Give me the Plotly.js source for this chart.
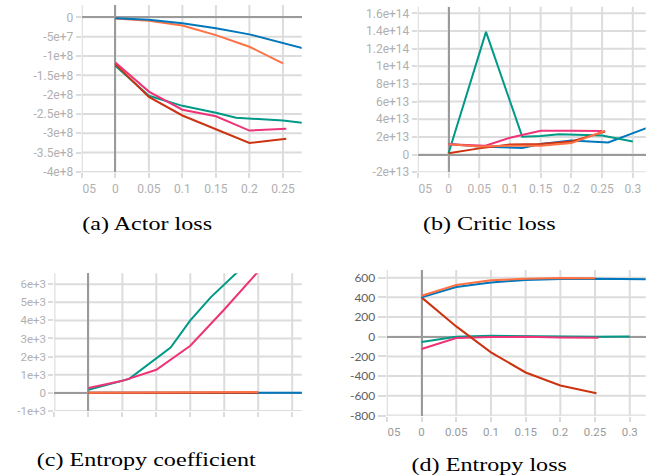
<!DOCTYPE html>
<html>
<head>
<meta charset="utf-8">
<script src="https://cdn.plot.ly/plotly-3.0.1.min.js"></script>
<style>
  html, body { margin: 0; padding: 0; background: #fff; }
  #chart { width: 660px; height: 476px; }
</style>
</head>
<body>
<div id="chart"></div>
<script>
// ---- (a) Actor loss ----
const actorBlueX   = [0, 0.05, 0.1, 0.15, 0.2, 0.25, 0.3];
const actorBlueY   = [-0.2e7, -0.6e7, -1.5e7, -2.8e7, -4.4e7, -6.5e7, -8.9e7];
const actorOrangeX = [0, 0.05, 0.1, 0.15, 0.2, 0.25];
const actorOrangeY = [-0.3e7, -0.9e7, -2.1e7, -4.6e7, -7.6e7, -1.19e8];
const actorTealX   = [0, 0.05, 0.1, 0.15, 0.18, 0.2, 0.25, 0.3];
const actorTealY   = [-1.25e8, -2.03e8, -2.29e8, -2.47e8, -2.60e8, -2.62e8, -2.67e8, -2.77e8];
const actorPinkX   = [0, 0.05, 0.1, 0.15, 0.2, 0.255];
const actorPinkY   = [-1.17e8, -1.92e8, -2.39e8, -2.56e8, -2.93e8, -2.88e8];
const actorRedX    = [0, 0.05, 0.1, 0.15, 0.2, 0.255];
const actorRedY    = [-1.21e8, -2.06e8, -2.54e8, -2.89e8, -3.25e8, -3.14e8];
const actorYTicks  = [0, -5e7, -1e8, -1.5e8, -2e8, -2.5e8, -3e8, -3.5e8, -4e8];
const actorYLabels = ['0', '-5e+7', '-1e+8', '-1.5e+8', '-2e+8', '-2.5e+8', '-3e+8', '-3.5e+8', '-4e+8'];

// ---- (b) Critic loss ----
const criticTealX   = [0, 0.061, 0.12, 0.15, 0.18, 0.25, 0.3];
const criticTealY   = [0.15e13, 13.9e13, 2.03e13, 2.1e13, 2.3e13, 2.15e13, 1.47e13];
const criticBlueX   = [0, 0.05, 0.12, 0.15, 0.2, 0.26, 0.33];
const criticBlueY   = [1.2e13, 0.9e13, 0.75e13, 1.2e13, 1.6e13, 1.36e13, 3.2e13];
const criticPinkX   = [0, 0.06, 0.1, 0.15, 0.2, 0.25];
const criticPinkY   = [1.17e13, 1.0e13, 1.9e13, 2.7e13, 2.7e13, 2.67e13];
const criticOrangeX = [0, 0.05, 0.1, 0.15, 0.2, 0.255];
const criticOrangeY = [1.17e13, 0.9e13, 1.0e13, 1.0e13, 1.3e13, 2.7e13];
const criticRedX    = [0, 0.05, 0.1, 0.15, 0.2, 0.255];
const criticRedY    = [0.15e13, 0.7e13, 1.13e13, 1.2e13, 1.47e13, 2.6e13];
const criticYTicks  = [-2e13, 0, 2e13, 4e13, 6e13, 8e13, 1e14, 1.2e14, 1.4e14, 1.6e14];
const criticYLabels = ['-2e+13', '0', '2e+13', '4e+13', '6e+13', '8e+13', '1e+14', '1.2e+14', '1.4e+14', '1.6e+14'];

// ---- (c) Entropy coefficient ----
const coefTealX   = [0, 0.06, 0.121, 0.15, 0.18, 0.24];
const coefTealY   = [170, 770, 2500, 4000, 5270, 7400];
const coefPinkX   = [0, 0.05, 0.1, 0.15, 0.2, 0.25];
const coefPinkY   = [260, 660, 1270, 2600, 4600, 6700];
const coefBlueX   = [0, 0.05, 0.1, 0.15, 0.2, 0.25, 0.3, 0.35];
const coefBlueY   = [0, 0, 0, 0, 0, 0, 0, 0];
const coefRedX    = [0, 0.05, 0.1, 0.15, 0.2, 0.25];
const coefRedY    = [0, 0, 0, 0, 0, 0];
const coefOrangeX = [0, 0.05, 0.1, 0.15, 0.2, 0.25];
const coefOrangeY = [0, 0, 5, 10, 20, 40];
const coefYTicks  = [-1000, 0, 1000, 2000, 3000, 4000, 5000, 6000];
const coefYLabels = ['-1e+3', '0', '1e+3', '2e+3', '3e+3', '4e+3', '5e+3', '6e+3'];

// ---- (d) Entropy loss ----
const entBlueX   = [0, 0.05, 0.1, 0.15, 0.2, 0.25, 0.33];
const entBlueY   = [400, 505, 552, 576, 586, 590, 583];
const entOrangeX = [0, 0.05, 0.1, 0.15, 0.2, 0.25];
const entOrangeY = [417, 525, 573, 590, 597, 593];
const entRedX    = [0, 0.05, 0.1, 0.15, 0.2, 0.252];
const entRedY    = [400, 105, -159, -363, -495, -573];
const entTealX   = [0, 0.05, 0.1, 0.15, 0.2, 0.25, 0.3];
const entTealY   = [-54, 0, 10, 7, 0, 0, 3];
const entPinkX   = [0, 0.05, 0.1, 0.15, 0.2, 0.255];
const entPinkY   = [-125, -14, -3, 0, -7, -10];
const entYTicks  = [-800, -600, -400, -200, 0, 200, 400, 600];
const entYLabels = ['-800', '-600', '-400', '-200', '0', '200', '400', '600'];

// shared step axis
const NB = '\u00a0';
const stepTicks  = [-0.05, 0, 0.05, 0.1, 0.15, 0.2, 0.25, 0.3];
const stepLabels = [NB.repeat(5) + '05', '0', '0.05', '0.1', '0.15', '0.2', '0.25', '0.3'];

const captions = ['(a) Actor loss', '(b) Critic loss', '(c) Entropy coefficient', '(d) Entropy loss'];

// run colours
const C = { blue: '#0077bb', orange: '#ff7043', red: '#cc3311', pink: '#ee3377', teal: '#009988' };

const W = 660, H = 476;
const xd = (l, r) => [l / W, r / W];
const yd = (t, b) => [1 - b / H, 1 - t / H];

function line(x, y, color, xa, ya) {
  return { x, y, type: 'scatter', mode: 'lines', xaxis: xa, yaxis: ya,
           line: { color, width: 2 }, hoverinfo: 'skip', showlegend: false };
}

const gridC = '#dcdcdc';
function xAxis(domain, range, anchor, labels, font) {
  return {
    domain, range, anchor, tickmode: 'array', tickvals: stepTicks.slice(), ticktext: stepLabels.slice(),
    showticklabels: labels, showgrid: false,
    zeroline: true, zerolinecolor: '#9a9a9a', zerolinewidth: 2, showline: false,
    ticks: 'outside', ticklen: 5, tickwidth: 2, tickcolor: gridC,
    tickfont: font || { family: 'Roboto', size: 12, color: '#b0b0b0' }
  };
}
function yAxis(domain, range, anchor, vals, text, font, ticklen) {
  return {
    domain, range, anchor, tickmode: 'array', tickvals: vals, ticktext: text, showgrid: false,
    zeroline: true, zerolinecolor: '#9a9a9a', zerolinewidth: 2, showline: false,
    ticks: 'outside', ticklen: ticklen || 5, tickwidth: 2, tickcolor: gridC,
    tickfont: font || { family: 'Roboto', size: 12, color: '#b0b0b0' }
  };
}

// light grid drawn as shapes at the tick values of each subplot
function gridShapes(xa, ya, xVals, yVals, xRange, yRange) {
  const s = [];
  xVals.filter(v => v >= xRange[0] && v <= xRange[1]).forEach(v => s.push({
    type: 'line', layer: 'below', xref: xa, yref: ya + ' domain', x0: v, x1: v, y0: 0, y1: 1,
    line: { color: gridC, width: 2 }
  }));
  yVals.filter(v => v >= yRange[0] && v <= yRange[1]).forEach(v => s.push({
    type: 'line', layer: 'below', xref: xa + ' domain', yref: ya, x0: 0, x1: 1, y0: v, y1: v,
    line: { color: gridC, width: 2 }
  }));
  return s;
}

const data = [
  line(actorOrangeX, actorOrangeY, C.orange, 'x', 'y'),
  line(actorBlueX, actorBlueY, C.blue, 'x', 'y'),
  line(actorTealX, actorTealY, C.teal, 'x', 'y'),
  line(actorRedX, actorRedY, C.red, 'x', 'y'),
  line(actorPinkX, actorPinkY, C.pink, 'x', 'y'),

  line(criticBlueX, criticBlueY, C.blue, 'x2', 'y2'),
  line(criticTealX, criticTealY, C.teal, 'x2', 'y2'),
  line(criticPinkX, criticPinkY, C.pink, 'x2', 'y2'),
  line(criticRedX, criticRedY, C.red, 'x2', 'y2'),
  line(criticOrangeX, criticOrangeY, C.orange, 'x2', 'y2'),

  line(coefBlueX, coefBlueY, C.blue, 'x3', 'y3'),
  line(coefRedX, coefRedY, C.red, 'x3', 'y3'),
  line(coefOrangeX, coefOrangeY, C.orange, 'x3', 'y3'),
  line(coefTealX, coefTealY, C.teal, 'x3', 'y3'),
  line(coefPinkX, coefPinkY, C.pink, 'x3', 'y3'),

  line(entTealX, entTealY, C.teal, 'x4', 'y4'),
  line(entPinkX, entPinkY, C.pink, 'x4', 'y4'),
  line(entRedX, entRedY, C.red, 'x4', 'y4'),
  line(entBlueX, entBlueY, C.blue, 'x4', 'y4'),
  line(entOrangeX, entOrangeY, C.orange, 'x4', 'y4')
];

const capFont = { family: 'Liberation Serif', size: 19, color: '#000' };
function caption(text, cx, cy) {
  return { text, xref: 'paper', yref: 'paper', x: cx / W, y: 1 - cy / H,
           xanchor: 'center', yanchor: 'middle', showarrow: false, font: capFont };
}

const rA = { x: [-0.0502, 0.278], y: [-4.01e8, 3.2e7] };
const rB = { x: [-0.0502, 0.321], y: [-2.01e13, 1.675e14] };
const rC = { x: [-0.0502, 0.314], y: [-1005, 6600] };
const rD = { x: [-0.0502, 0.323], y: [-802, 678] };

const layout = {
  width: W, height: H, margin: { l: 0, r: 0, t: 0, b: 0 }, showlegend: false,
  xaxis:  xAxis(xd(81.7, 301.7), rA.x, 'y', true),
  yaxis:  yAxis(yd(5, 172.3), rA.y, 'x', actorYTicks, actorYLabels),
  xaxis2: xAxis(xd(417.7, 645.7), rB.x, 'y2', true),
  yaxis2: yAxis(yd(6.7, 172.3), rB.y, 'x2', criticYTicks, criticYLabels),
  xaxis3: xAxis(xd(54.3, 301.7), rC.x, 'y3', false),
  yaxis3: yAxis(yd(273.3, 411), rC.y, 'x3', coefYTicks, coefYLabels,
                { family: 'Roboto', size: 11.5, color: '#b0b0b0' }),
  xaxis4: xAxis(xd(386.7, 645.7), rD.x, 'y4', true,
                { family: 'Roboto', size: 11.5, color: '#9a9a9a' }),
  yaxis4: yAxis(yd(270, 415.7), rD.y, 'x4', entYTicks, entYLabels,
                { family: 'Lato', size: 12, color: '#616161' }, 8),
  shapes: [].concat(
    gridShapes('x', 'y', stepTicks, actorYTicks, rA.x, rA.y),
    gridShapes('x2', 'y2', stepTicks, criticYTicks, rB.x, rB.y),
    gridShapes('x3', 'y3', stepTicks, coefYTicks, rC.x, rC.y),
    gridShapes('x4', 'y4', stepTicks, entYTicks, rD.x, rD.y)
  ),
  annotations: [
    caption(captions[0], 147, 224),
    caption(captions[1], 489.5, 224),
    caption(captions[2], 146.7, 460),
    caption(captions[3], 489, 465)
  ]
};

Plotly.newPlot('chart', data, layout, { displayModeBar: false }).then(() => {
  // widen the serif caption glyphs horizontally around their centres
  document.querySelectorAll('#chart .annotation-text').forEach(el => {
    const b = el.getBBox();
    const cx = b.x + b.width / 2;
    el.setAttribute('transform', `translate(${cx},0) scale(1.27,1) translate(${-cx},0)`);
  });
});
</script>
</body>
</html>
